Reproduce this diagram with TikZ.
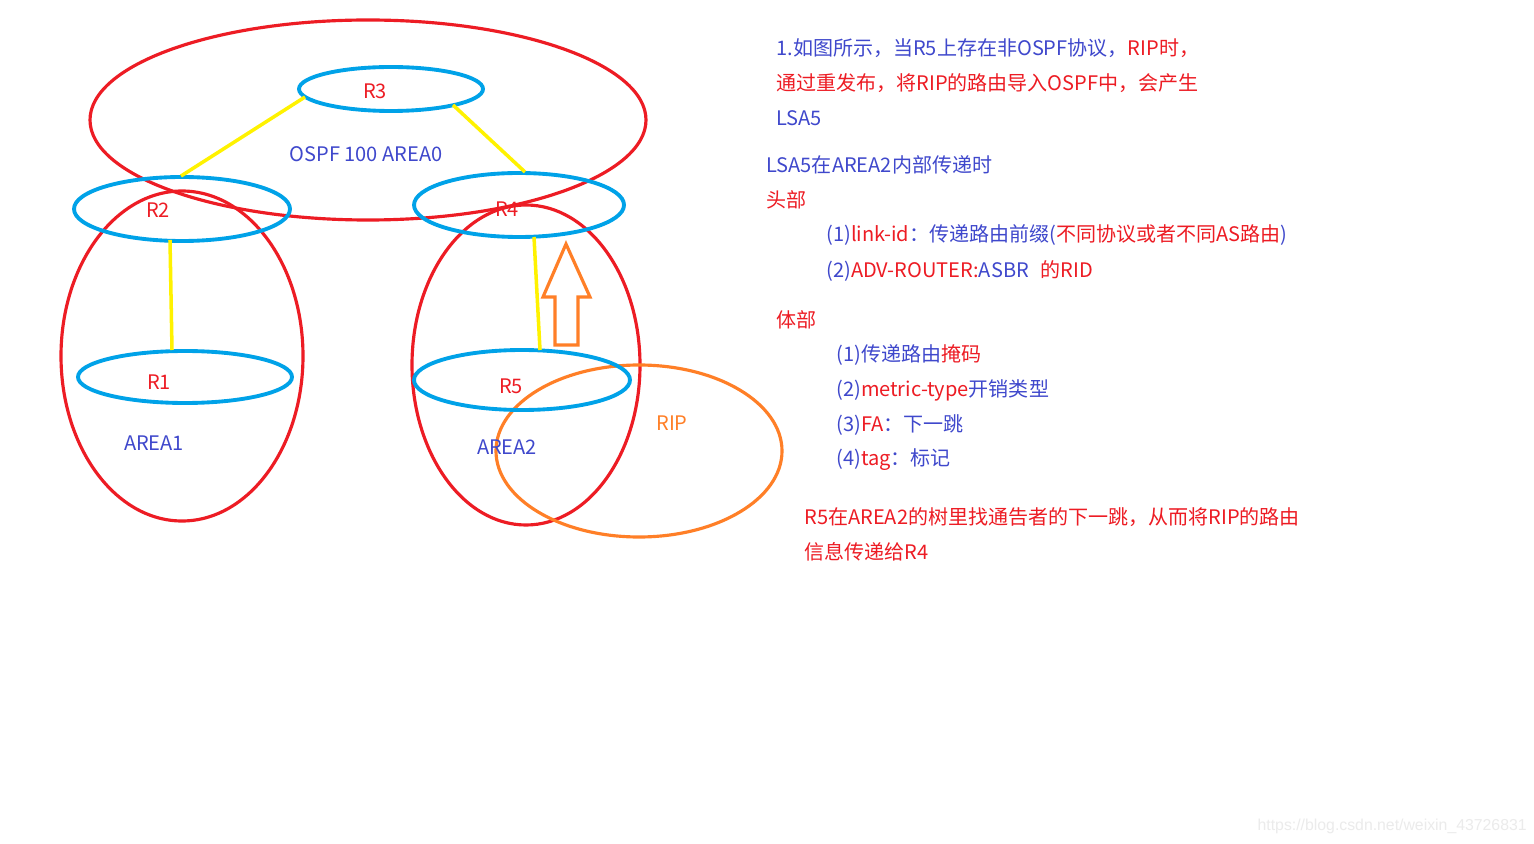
\documentclass[tikz,border=0pt]{standalone}
\usepackage{fontspec}
\setmainfont{Noto Sans CJK SC}
\newfontfamily\wmfont{Liberation Sans}
\definecolor{tblue}{HTML}{3F48CC}
\definecolor{tred}{HTML}{ED1C24}
\definecolor{torange}{HTML}{FF7F27}
\definecolor{tcyan}{HTML}{00A2E8}
\definecolor{tyellow}{HTML}{FFF200}
\newcommand{\bl}[1]{\textcolor{tblue}{#1}}
\newcommand{\rd}[1]{\textcolor{tred}{#1}}
\begin{document}
\begin{tikzpicture}[x=0.02cm,y=-0.02cm,
  area/.style={line width=1.8pt,tred},
  router/.style={line width=2.2pt,tcyan},
  link/.style={line width=2pt,tyellow},
  lbl/.style={inner sep=0pt,font=\fontsize{11.4pt}{13pt}\selectfont},
  txt/.style={lbl,anchor=west}]
\useasboundingbox[fill=white] (0,0) rectangle (1534,844);

\coordinate (A0) at (368,120);
\coordinate (A1) at (182,356);
\coordinate (A2) at (526,365);
\coordinate (RIP) at (639,451);
\draw [area] (A0) ellipse [x radius=278,y radius=100];
\draw [area] (A1) ellipse [x radius=121,y radius=165];
\draw [area] (A2) ellipse [x radius=114,y radius=160];
\draw [line width=1.8pt,torange] (RIP) ellipse [x radius=143,y radius=86];

\coordinate (R3) at (391,89);
\coordinate (R2) at (182,209);
\coordinate (R4) at (519,205);
\coordinate (R1) at (185,377);
\coordinate (R5) at (522,380);
\draw [router] (R3) ellipse [x radius=92,y radius=22];
\draw [router] (R2) ellipse [x radius=108,y radius=32];
\draw [router] (R4) ellipse [x radius=105,y radius=32];
\draw [router] (R1) ellipse [x radius=107,y radius=26];
\draw [router] (R5) ellipse [x radius=108,y radius=30];

\coordinate (L30) at (305,97);
\coordinate (L31) at (453,105);
\coordinate (L20) at (181,176);
\coordinate (L21) at (170,240);
\coordinate (L10) at (172,350);
\coordinate (L40) at (525,172);
\coordinate (L41) at (534,237);
\coordinate (L50) at (540,350);
\draw [link] (L30) -- (L20);
\draw [link] (L31) -- (L40);
\draw [link] (L21) -- (L10);
\draw [link] (L41) -- (L50);

\draw [line width=1.8pt,torange,line join=miter] (566,244) -- (590,297) -- (578,297) -- (578,345) -- (555,345) -- (555,297) -- (543,297) -- cycle;

\node[lbl,tred] (nR3) at (375,91) {R3};
\node[lbl,tred] (nR2) at (158,210) {R2};
\node[lbl,tred] (nR4) at (507,209) {R4};
\node[lbl,tred] (nR1) at (159,382) {R1};
\node[lbl,tred] (nR5) at (511,386) {R5};
\node[lbl,tblue] (nA0) at (366,154) {OSPF 100 AREA0};
\node[lbl,tblue] (nA1) at (154,443) {AREA1};
\node[lbl,tblue] (nA2) at (507,447) {AREA2};
\node[lbl,torange] (nRIP) at (672,423) {RIP};

\node[txt] (t1) at (776,48) {\bl{1.如图所示，当R5上存在非OSPF协议，}\rd{RIP时，}};
\node[txt] (t2) at (776,83) {\rd{通过重发布，将RIP的路由导入OSPF中，会产生}};
\node[txt] (t3) at (776,118) {\bl{LSA5}};
\node[txt] (t4) at (766,165) {\bl{LSA5在AREA2内部传递时}};
\node[txt] (t5) at (766,200) {\rd{头部}};
\node[txt] (t6) at (826,235) {\bl{(1)}\rd{link-id}\bl{：传递路由前缀(}\rd{不同协议或者不同AS路由}\bl{)}};
\node[txt] (t7) at (826,271) {\bl{(2)}\rd{ADV-ROUTER:}\bl{ASBR}\hspace{0.6em}\rd{的RID}};
\node[txt] (t8) at (776,320) {\rd{体部}};
\node[txt] (t9) at (836,355) {\bl{(1)传递路由}\rd{掩码}};
\node[txt] (t10) at (836,390) {\bl{(2)}\rd{metric-type}\bl{开销类型}};
\node[txt] (t11) at (836,425) {\bl{(3)}\rd{FA}\bl{：下一跳}};
\node[txt] (t12) at (836,460) {\bl{(4)}\rd{tag}\bl{：标记}};
\node[txt] (t13) at (804,517) {\rd{R5在AREA2的树里找通告者的下一跳，从而将RIP的路由}};
\node[txt] (t14) at (804,552) {\rd{信息传递给R4}};

\node[inner sep=0pt,anchor=east,text=black!8,font=\wmfont\fontsize{9pt}{10pt}\selectfont] (wm) at (1527,826) {https://blog.csdn.net/weixin\_43726831};
\end{tikzpicture}
\end{document}
